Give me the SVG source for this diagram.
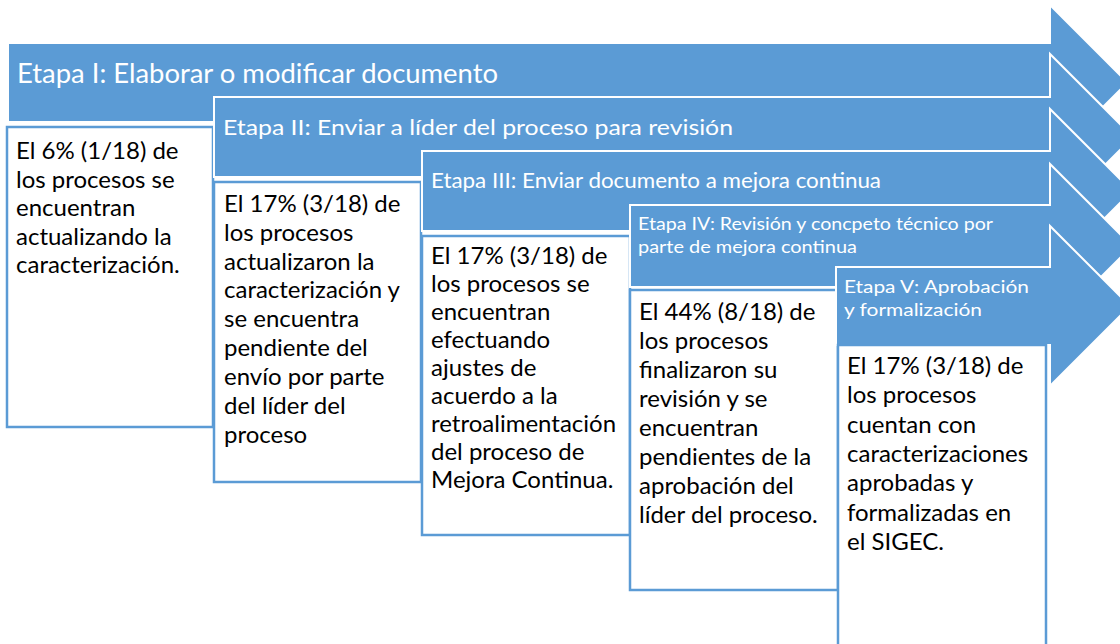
<svg xmlns="http://www.w3.org/2000/svg" width="1120" height="644" viewBox="0 0 1120 644">
<style>
.arr{fill:#5B9BD5;stroke:#FFFFFF;stroke-width:2}
.box{fill:#FFFFFF;stroke:#5B9BD5;stroke-width:2.5}
.lbl{fill:#FFFFFF;font-family:Lato,"Liberation Sans",sans-serif}
.txt{fill:#000000;font-family:Lato,"Liberation Sans",sans-serif;font-size:24px}
</style>
<rect width="1120" height="644" fill="#FFFFFF"/>
<g id="connectors"></g>
<g id="stage1">
<path class="arr" d="M8,43 H1050 V5 L1127.5,82.5 L1050,160 V122 H8 Z"/>
<text class="lbl" x="17" y="83" font-size="26" textLength="481" lengthAdjust="spacingAndGlyphs">Etapa I: Elaborar o modificar documento</text>
<rect class="box" x="7" y="127" width="206" height="300"/>
<text class="txt"><tspan x="16" y="159">El 6% (1/18) de</tspan><tspan x="16" y="187.5">los procesos se</tspan><tspan x="16" y="216">encuentran</tspan><tspan x="16" y="244.5">actualizando la</tspan><tspan x="16" y="273">caracterización.</tspan></text>
</g>
<g id="stage2">
<path class="arr" d="M214,97 H1050 V54 L1133,137 L1050,220 V177 H214 Z"/>
<text class="lbl" x="223" y="135" font-size="22" textLength="510" lengthAdjust="spacingAndGlyphs">Etapa II: Enviar a líder del proceso para revisión</text>
<rect class="box" x="214" y="182" width="207" height="300"/>
<text class="txt"><tspan x="224" y="211.7">El 17% (3/18) de</tspan><tspan x="224" y="240.6">los procesos</tspan><tspan x="224" y="269.5">actualizaron la</tspan><tspan x="224" y="298.4">caracterización y</tspan><tspan x="224" y="327.3">se encuentra</tspan><tspan x="224" y="356.2">pendiente del</tspan><tspan x="224" y="385.1">envío por parte</tspan><tspan x="224" y="414">del líder del</tspan><tspan x="224" y="442.9">proceso</tspan></text>
</g>
<g id="stage3">
<path class="arr" d="M422,151 H1050 V109 L1132,191 L1050,273 V231 H422 Z"/>
<text class="lbl" x="431" y="188" font-size="21" textLength="450" lengthAdjust="spacingAndGlyphs">Etapa III: Enviar documento a mejora continua</text>
<rect class="box" x="422" y="236" width="208" height="299"/>
<text class="txt"><tspan x="431" y="264">El 17% (3/18) de</tspan><tspan x="431" y="292">los procesos se</tspan><tspan x="431" y="320">encuentran</tspan><tspan x="431" y="348">efectuando</tspan><tspan x="431" y="376">ajustes de</tspan><tspan x="431" y="404">acuerdo a la</tspan><tspan x="431" y="432">retroalimentación</tspan><tspan x="431" y="460">del proceso de</tspan><tspan x="431" y="488">Mejora Continua.</tspan></text>
</g>
<g id="stage4">
<path class="arr" d="M630,205 H1050 V164 L1132,246 L1050,328 V287 H630 Z"/>
<text class="lbl" font-size="17.5"><tspan x="638" y="230" textLength="355" lengthAdjust="spacingAndGlyphs">Etapa IV: Revisión y concpeto técnico por</tspan><tspan x="638" y="253" textLength="219" lengthAdjust="spacingAndGlyphs">parte de mejora continua</tspan></text>
<rect class="box" x="630" y="290" width="208" height="300"/>
<text class="txt"><tspan x="639" y="320">El 44% (8/18) de</tspan><tspan x="639" y="349">los procesos</tspan><tspan x="639" y="378">finalizaron su</tspan><tspan x="639" y="407">revisión y se</tspan><tspan x="639" y="436">encuentran</tspan><tspan x="639" y="465">pendientes de la</tspan><tspan x="639" y="494">aprobación del</tspan><tspan x="639" y="523">líder del proceso.</tspan></text>
</g>
<g id="stage5">
<path class="arr" d="M836,267 H1050 V226 L1130,306 L1050,386 V345 H836 Z"/>
<text class="lbl" font-size="18"><tspan x="844" y="293" textLength="185" lengthAdjust="spacingAndGlyphs">Etapa V: Aprobación</tspan><tspan x="844" y="316" textLength="138" lengthAdjust="spacingAndGlyphs">y formalización</tspan></text>
<rect class="box" x="838" y="345" width="208" height="302"/>
<text class="txt"><tspan x="847" y="374">El 17% (3/18) de</tspan><tspan x="847" y="403.3">los procesos</tspan><tspan x="847" y="432.6">cuentan con</tspan><tspan x="847" y="461.9">caracterizaciones</tspan><tspan x="847" y="491.2">aprobadas y</tspan><tspan x="847" y="520.5">formalizadas en</tspan><tspan x="847" y="549.8">el SIGEC.</tspan></text>
</g>
</svg>
